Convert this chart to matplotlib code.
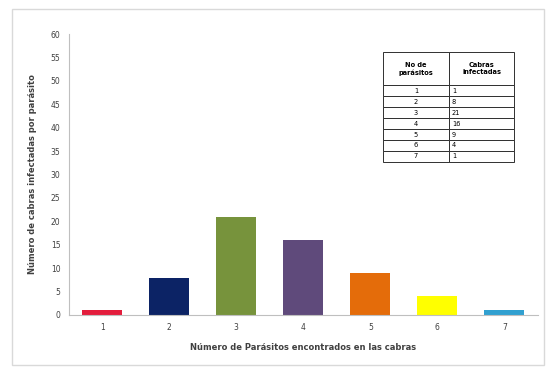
import matplotlib
matplotlib.use("Agg")
import matplotlib.pyplot as plt
from matplotlib.patches import Rectangle

parasitos = ["1", "2", "3", "4", "5", "6", "7"]
cabras = [1, 8, 21, 16, 9, 4, 1]
colores = ["#E31D3C", "#0C2365", "#77933C", "#5F4A7B", "#E46C0A", "#FFFF00", "#31A0D0"]

fig = plt.figure(figsize=(5.51, 3.71), dpi=100)
fig.patches.append(Rectangle((0.022, 0.015), 0.966, 0.96, transform=fig.transFigure,
                             fill=False, edgecolor="#d9d9d9", lw=1.0))
ax = fig.add_axes([0.125, 0.151, 0.851, 0.757])

x = range(len(parasitos))
ax.bar(x, cabras, width=0.6, color=colores)
ax.set_xlim(-0.5, len(parasitos) - 0.5)
ax.set_ylim(0, 60)
ax.set_yticks(range(0, 61, 5))
ax.set_xticks(list(x))
ax.set_xticklabels(parasitos)
ax.tick_params(axis="both", length=0, labelsize=5.5, colors="#404040", pad=6)

for s in ["top", "right"]:
    ax.spines[s].set_visible(False)
ax.spines["left"].set_color("#bfbfbf")
ax.spines["bottom"].set_color("#bfbfbf")
ax.spines["left"].set_linewidth(0.8)
ax.spines["bottom"].set_linewidth(0.8)

ax.set_xlabel("Número de Parásitos encontrados en las cabras", fontsize=6,
              fontweight="bold", color="#404040", labelpad=8)
ax.set_ylabel("Número de cabras infectadas por parásito", fontsize=6,
              fontweight="bold", color="#404040", labelpad=10)

filas = [["No de\nparásitos", "Cabras\ninfectadas"]] + \
        [[p, str(c)] for p, c in zip(parasitos, cabras)]
tabla = ax.table(cellText=filas, bbox=[0.67, 0.545, 0.28, 0.39], cellLoc="center")
tabla.auto_set_font_size(False)
tabla.set_fontsize(4.8)
for (r, c), cell in tabla.get_celld().items():
    cell.set_edgecolor("#303030")
    cell.set_linewidth(0.7)
    cell.set_height(0.3 if r == 0 else 0.1)
    if r == 0:
        cell.get_text().set_fontweight("bold")
    if c == 1 and r > 0:
        cell._loc = "left"
        cell.get_text().set_ha("left")
        cell.PAD = 0.05

plt.savefig("out.png", dpi=100)
plt.close()
